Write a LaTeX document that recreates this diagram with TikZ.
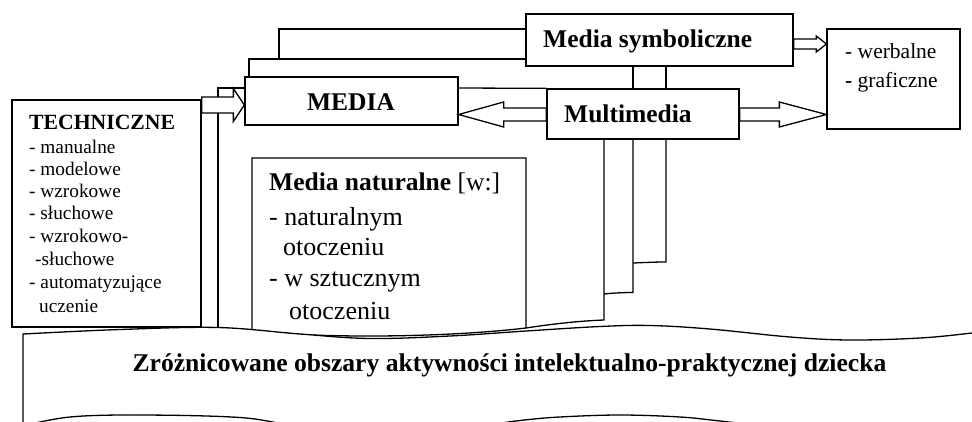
\documentclass[tikz,border=0pt]{standalone}
\usepackage{fontspec}
\setmainfont{Liberation Serif}
\usetikzlibrary{calc}

\newcommand\fsz[1]{\fontsize{#1}{#1}\selectfont}

\tikzset{
  box/.style={draw, line width=1.3pt, fill=white, rectangle, inner sep=0pt},
  ln/.style={line width=1.3pt},
  blk/.style={draw, line width=1.3pt, fill=white, line join=miter},
  txt/.style={anchor=base west, inner sep=0pt},
  head/.style={txt, font=\fsz{25.5}\bfseries},
  small/.style={txt, font=\fsz{19.3}},
  mid/.style={txt, font=\fsz{21.5}},
  big/.style={txt, font=\fsz{26}},
}

% block arrow: start node, tip point, shaft half width, head half width, signed head length
\newcommand\blockarrow[5]{%
  \coordinate (ba-t) at (#2);
  \coordinate (ba-s) at (#1 |- ba-t);
  \draw[blk] ([yshift=#3]ba-s) -- ([xshift=#5,yshift=#3]ba-t)
    -- ([xshift=#5,yshift=#4]ba-t) -- (ba-t)
    -- ([xshift=#5,yshift=-#4]ba-t) -- ([xshift=#5,yshift=-#3]ba-t)
    -- ([yshift=-#3]ba-s) -- cycle;}

\begin{document}
\begin{tikzpicture}[x=1pt,y=-1pt]
\useasboundingbox (0,0) rectangle (972,421);

% main boxes
\node[box, minimum width=189pt, minimum height=227pt] (tech) at (106.5,213.5) {};
\node[box, minimum width=213pt, minimum height=48pt] (media) at (351.5,101) {};
\node[box, minimum width=267pt, minimum height=52pt] (symb) at (659.5,40) {};
\node[box, minimum width=192pt, minimum height=50pt] (multi) at (643,114) {};
\node[box, minimum width=133pt, minimum height=100pt] (kinds) at (893.5,79) {};

% sheets stacked behind MEDIA
\draw[ln] (media.north -| 249,0) -- (249,59) -- (symb.west |- 0,59);
\draw[ln] (279,59) -- (279,29) -- (symb.west |- 0,29);
\draw[ln] (218,334) -- (218,88) -- (media.west |- 0,88);
\draw[ln] (media.east |- 0,88) -- (multi.north west);

% sheets stacked behind Multimedia
\draw[ln] (symb.south -| 633,0) -- (multi.north -| 633,0);
\draw[ln] (symb.south -| 666,0) -- (multi.north -| 666,0);
\draw[ln] (multi.south -| 666,0) -- (666,262) .. controls (655,262) and (645,262.5) .. (633,263);
\draw[ln] (multi.south -| 633,0) -- (633,292.5) .. controls (623,292.5) and (613,293) .. (604,294);
\draw[ln] (multi.south -| 604,0) -- (604,320) .. controls (578,321) and (552,324) .. (526,328);

% Media naturalne sheet with a wavy lower edge
\draw[ln, fill=white] (252,331) -- (252,158) -- (526,158) -- (526,328)
  .. controls (450,337) and (330,339) .. (252,331) -- cycle;
\coordinate (natural) at (389,158);

% block arrows
\blockarrow{tech.east}{media.west |- 0,105}{8pt}{16.5pt}{-11pt}
\blockarrow{multi.west}{media.east |- 0,114.5}{6.5pt}{12.5pt}{45pt}
\blockarrow{multi.east}{kinds.west |- 0,114.5}{6.5pt}{12.5pt}{-47pt}
\blockarrow{symb.east}{kinds.west |- 0,44}{5pt}{8pt}{-10pt}

% wavy band along the bottom
\begin{scope}
  \clip (0,0) rectangle (972,421);
  \draw[ln, fill=white]
    plot[smooth, tension=0.6] coordinates {(23,334) (120,329.5) (218,327.5) (300,334)
      (370,338.5) (450,336) (526,331) (600,326.5) (650,325.5) (710,329) (790,337)
      (850,340) (920,338) (972,333) (1010,328)}
    -- (1010,460)
    -- plot[smooth, tension=0.6] coordinates {(1010,450) (900,438) (800,430) (720,421)
      (680,417) (620,415) (560,417) (520,420.5) (470,427) (400,432) (300,426)
      (240,417.5) (140,415) (70,417) (23,426)}
    -- cycle;
\end{scope}

% texts
\node[txt, font=\fsz{21.7}\bfseries] (t0) at (29,129) {TECHNICZNE};
\node[small] (t1) at (29,153) {- manualne};
\node[small] (t2) at (29,175) {- modelowe};
\node[small] (t3) at (29,197) {- wzrokowe};
\node[small] (t4) at (29,219) {- słuchowe};
\node[small] (t5) at (29,242) {- wzrokowo-};
\node[small] (t6) at (35,265) {-słuchowe};
\node[small] (t7) at (29,288) {- automatyzujące};
\node[small] (t8) at (39,312) {uczenie};

\node[head, anchor=base] (mediatxt) at (351,110) {MEDIA};
\node[head] (symbtxt) at (543,47) {Media symboliczne};
\node[head] (multitxt) at (564,122) {Multimedia};

\node[mid] (k1) at (845,58) {- werbalne};
\node[mid] (k2) at (845,87) {\textbf{-} graficzne};

\node[head] (n0) at (269,190) {Media naturalne \mdseries[w:]};
\node[big] (n1) at (269,225) {- naturalnym};
\node[big] (n2) at (283,255) {otoczeniu};
\node[big] (n3) at (269,286) {- w sztucznym};
\node[big] (n4) at (289,319) {otoczeniu};

\node[txt, anchor=base, font=\fsz{25.6}\bfseries] (band) at (509.5,371)
  {Zróżnicowane obszary aktywności intelektualno-praktycznej dziecka};
\end{tikzpicture}
\end{document}
